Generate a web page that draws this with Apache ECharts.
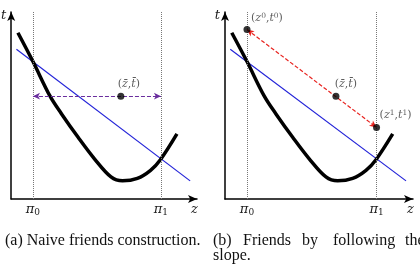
<!DOCTYPE html>
<html>
<head>
<meta charset="utf-8">
<script src="https://cdn.jsdelivr.net/npm/echarts@6/dist/echarts.min.js"></script>
<style>
  html, body { margin: 0; padding: 0; background: #fff; }
  #chart { width: 420px; height: 268px; }
</style>
</head>
<body>
<div id="chart"></div>
<script>
// ---- data (z, t in 0..100 units) ----
const PI = [11.7, 80.6]                       // pi_0, pi_1 on the z axis
const CURVE_Z = [3.6, 11.7, 20.9, 27.1, 36.0, 44.8, 53.7, 59.9, 67.9, 75.0, 80.3, 89.2]
const CURVE_T = [88.9, 73.5, 55.0, 45.5, 33.0, 21.5, 11.8, 9.7, 11.0, 15.3, 21.0, 34.8]
const SLOPE_Z = [2.8, 96.3]                   // blue line
const SLOPE_T = [80.1, 9.7]
const MEAN = [59.0, 55.0]                     // (z bar, t bar)
const FRIEND0 = [11.7, 90.6]                  // (z0, t0)
const FRIEND1 = [80.6, 38.3]                  // (z1, t1)

const SERIF = '"DejaVu Serif", "Liberation Serif", serif'
const TEXT_SERIF = '"Liberation Serif", "DejaVu Serif", serif'
const GRIDS = [
  { left: 9, top: 12, width: 188, height: 187 },
  { left: 225, top: 12, width: 188, height: 187 }
]

const zip = (a, b) => a.map((v, i) => [v, b[i]])

const ptLabel = (txt, off) => ({
  show: true, position: 'top', offset: off,
  formatter: txt,
  color: '#333', fontFamily: SERIF, fontSize: 11,
  rich: {
    p: { fontFamily: SERIF, fontSize: 11, color: '#333' },
    i: { fontFamily: SERIF, fontSize: 11, fontStyle: 'italic', color: '#333' },
    s: { fontFamily: SERIF, fontSize: 7.5, color: '#333', verticalAlign: 'top', padding: [0, 0, 4, 0] }
  }
})

function axes(idx) {
  const x = {
    gridIndex: idx, type: 'value', min: 0, max: 100,
    splitLine: { show: false }, axisTick: { show: false },
    axisLine: { lineStyle: { color: '#000', width: 1.5 }, symbol: ['none', 'arrow'], symbolSize: [6, 9] },
    axisLabel: {
      customValues: PI, margin: 3,
      formatter: v => v === PI[0] ? '{p|π}{s|0}' : '{p|π}{s|1}',
      rich: {
        p: { fontFamily: SERIF, fontSize: 13, fontStyle: 'italic', color: '#222' },
        s: { fontFamily: SERIF, fontSize: 9, color: '#222', verticalAlign: 'bottom', padding: [6, 0, 0, 0] }
      }
    },
    name: 'z', nameLocation: 'end', nameGap: -6,
    nameTextStyle: { fontFamily: SERIF, fontSize: 13, fontStyle: 'italic', color: '#222', verticalAlign: 'top', padding: [4, 0, 0, 0] }
  }
  const y = {
    gridIndex: idx, type: 'value', min: 0, max: 100,
    splitLine: { show: false }, axisTick: { show: false }, axisLabel: { show: false },
    axisLine: { lineStyle: { color: '#000', width: 1.5 }, symbol: ['none', 'arrow'], symbolSize: [6, 9] },
    name: 't', nameLocation: 'end', nameGap: -10,
    nameTextStyle: { fontFamily: SERIF, fontSize: 13, fontStyle: 'italic', color: '#222', align: 'right', padding: [0, 5, 0, 0] }
  }
  return [x, y]
}

function panel(idx, friends) {
  const s = []
  s.push({
    type: 'line', xAxisIndex: idx, yAxisIndex: idx,
    data: zip(SLOPE_Z, SLOPE_T), showSymbol: false,
    lineStyle: { color: '#2323d8', width: 1.2 }, z: 2
  })
  s.push({
    type: 'line', xAxisIndex: idx, yAxisIndex: idx,
    data: zip(CURVE_Z, CURVE_T), smooth: 0.35, showSymbol: false,
    lineStyle: { color: '#000', width: 3.5 }, z: 3,
    markLine: {
      silent: true, symbol: ['none', 'none'], label: { show: false },
      lineStyle: { color: '#777', type: 'dotted', width: 1 },
      data: PI.map(v => ({ xAxis: v }))
    }
  })
  const dashed = friends
    ? { color: '#e8231f', from: FRIEND0, to: FRIEND1 }
    : { color: '#6a2e9e', from: [PI[0], MEAN[1]], to: [PI[1], MEAN[1]] }
  s.push({
    type: 'line', xAxisIndex: idx, yAxisIndex: idx, data: [],
    markLine: {
      silent: true, symbol: ['arrow', 'arrow'], symbolSize: [5, 7], label: { show: false },
      lineStyle: { color: dashed.color, type: [4, 2], width: 1.2 },
      data: [[{ coord: dashed.from }, { coord: dashed.to }]]
    }
  })
  const pts = [{ value: MEAN, label: ptLabel('{p|(}{i|z̄}{p|,}{i|t̄}{p|)}', [friends ? 10 : 8, 2]) }]
  if (friends) {
    pts.push({ value: FRIEND0, label: ptLabel('{p|(}{i|z}{s|0}{p|,}{i|t}{s|0}{p|)}', [20, 3]) })
    pts.push({ value: FRIEND1, label: ptLabel('{p|(}{i|z}{s|1}{p|,}{i|t}{s|1}{p|)}', [19, 2]) })
  }
  s.push({
    type: 'scatter', xAxisIndex: idx, yAxisIndex: idx,
    data: pts, symbolSize: 7, itemStyle: { color: '#000' }, z: 5
  })
  return s
}

const [xa, ya] = axes(0)
const [xb, yb] = axes(1)

const capFont = '16px ' + TEXT_SERIF
const caption = (text, x, y) => ({
  type: 'text', left: x, top: y,
  style: { text, font: capFont, fill: '#111' }
})

const chart = echarts.init(document.getElementById('chart'))
chart.setOption({
  animation: false,
  grid: GRIDS,
  xAxis: [xa, xb],
  yAxis: [ya, yb],
  series: [...panel(0, false), ...panel(1, true)],
  graphic: [
    caption('(a) Naive friends construction.', 5, 233),
    caption('(b)', 213, 233),
    caption('Friends', 243, 233),
    caption('by', 302, 233),
    caption('following', 333, 233),
    caption('the', 405, 233),
    caption('slope.', 213, 248)
  ]
})
</script>
</body>
</html>
